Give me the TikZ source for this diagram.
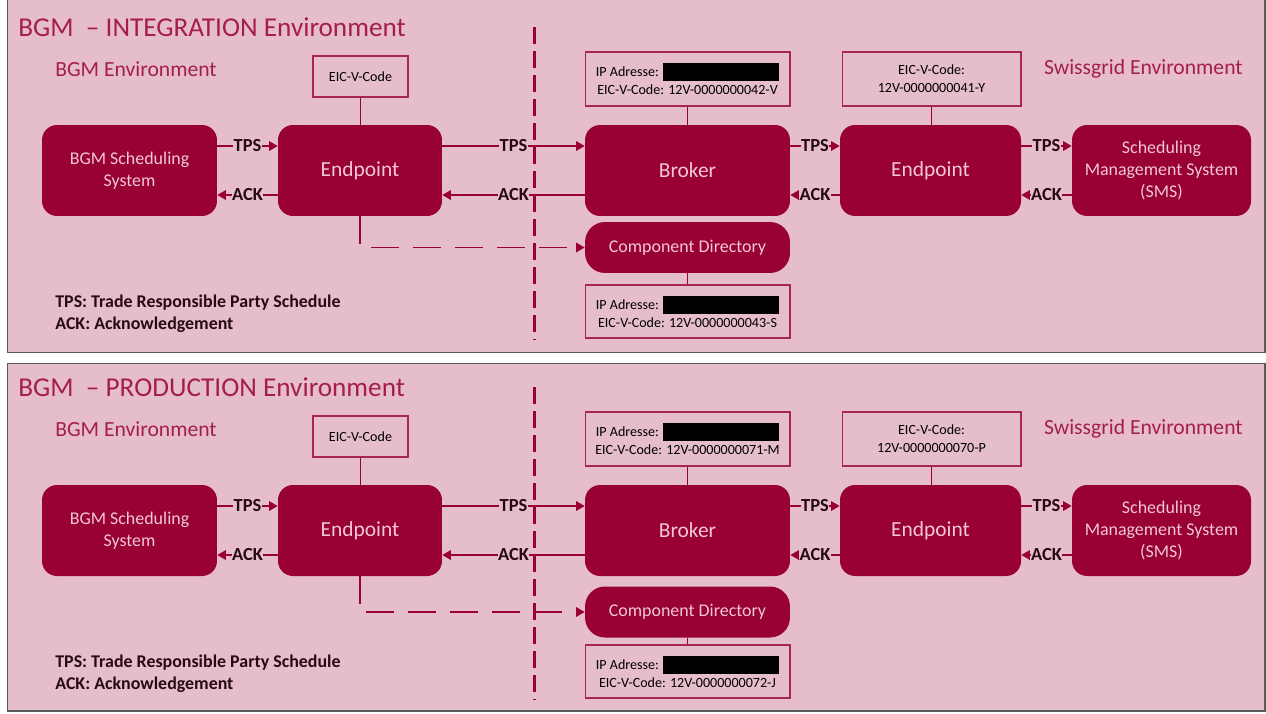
\documentclass[tikz,border=0pt]{standalone}
\usepackage{fontspec}
\setmainfont{Carlito}
\usetikzlibrary{arrows.meta}
\definecolor{bgpink}{RGB}{230,190,202}
\definecolor{bordeaux}{RGB}{153,0,51}
\definecolor{titlered}{RGB}{165,30,75}
\definecolor{lightpink}{RGB}{240,200,212}
\definecolor{panelgray}{RGB}{90,90,90}
\definecolor{labeldark}{RGB}{40,10,20}
\begin{document}
\begin{tikzpicture}[x=0.02cm, y=-0.02cm]
  \tikzstyle{sysbox} = [rectangle, fill=bordeaux, text=lightpink, rounded corners=0.3cm, minimum height=1.82cm, align=center, inner sep=0pt, font=\fontsize{10.2}{12.5}\selectfont]
  \tikzstyle{bigbox} = [sysbox, font=\fontsize{12.2}{14}\selectfont]
  \tikzstyle{infobox} = [rectangle, draw=bordeaux!85, line width=0.6pt, fill=bgpink, align=center, inner sep=0pt, font=\fontsize{8}{10.2}\selectfont]
  \tikzstyle{msg} = [draw=bordeaux, line width=0.85pt, -{Triangle[length=0.17cm, width=0.19cm]}]
  \tikzstyle{lbl} = [midway, fill=bgpink, text=labeldark, inner sep=0.3pt, font=\bfseries\fontsize{10.5}{12}\selectfont]
  \tikzstyle{link} = [draw=bordeaux, line width=0.6pt]
  \tikzstyle{envtitle} = [anchor=west, text=titlered, inner sep=0pt, font=\fontsize{12.3}{14}\selectfont]

  \useasboundingbox (0,0) rectangle (1266,713);
  \fill[white] (0,0) rectangle (1266,713);

  % one panel per environment
  \foreach \i/\y/\ptop/\pbot/\cdy/\envname/\brokercode/\epcode/\cdcode in
    {1/0/-3/352.5/247.5/INTEGRATION/42-V/41-Y/43-S,
     2/360/3.5/351/252/PRODUCTION/71-M/70-P/72-J} {
  \begin{scope}[shift={(0,\y)}]
    \draw[panelgray, fill=bgpink, line width=0.7pt] (7.5,\ptop) rectangle (1265,\pbot);

    \node[envtitle, font=\fontsize{15.5}{18}\selectfont] (title\i) at (18,27) {BGM \ – \envname{} Environment};
    \node[envtitle] (bgmenv\i) at (55,69) {BGM Environment};
    \node[envtitle, anchor=east] (sgenv\i) at (1243,69) {Swissgrid Environment};

    \node[sysbox, minimum width=3.5cm] (bgm\i) at (129.5,170.5) {BGM Scheduling\\System};
    \node[bigbox, minimum width=3.28cm] (epl\i) at (360,170.5) {Endpoint};
    \node[bigbox, minimum width=4.1cm] (broker\i) at (687.5,170.5) {Broker};
    \node[bigbox, minimum width=3.62cm] (epr\i) at (930.5,170.5) {Endpoint};
    \node[sysbox, minimum width=3.58cm] (sms\i) at (1161.5,170.5) {Scheduling\\Management System\\(SMS)};
    \node[sysbox, minimum width=4.1cm, minimum height=1.02cm, rounded corners=0.4cm] (cd\i) at (687.5,\cdy) {Component Directory};

    \node[infobox, minimum width=1.9cm, minimum height=0.82cm] (eicl\i) at (360.5,76.5) {EIC-V-Code};
    \node[infobox, minimum width=4.1cm, minimum height=1.08cm] (ipb\i) at (687.5,79) {IP Adresse: \rule[-0.09cm]{2.32cm}{0.36cm}\\EIC-V-Code: 12V-00000000\brokercode};
    \node[infobox, minimum width=3.58cm, minimum height=1.08cm] (eicr\i) at (931.5,79) {EIC-V-Code:\\12V-00000000\epcode};
    \node[infobox, minimum width=4.1cm, minimum height=1.06cm] (ipcd\i) at (687.5,311.5) {IP Adresse: \rule[-0.09cm]{2.32cm}{0.36cm}\\EIC-V-Code: 12V-00000000\cdcode};

    \node[anchor=west, align=left, text=labeldark, inner sep=0pt, font=\bfseries\fontsize{10.2}{12.5}\selectfont] (legend\i) at (55,314) {TPS: Trade Responsible Party Schedule\\ACK: Acknowledgement};

    % messages
    \draw[msg] ([yshift=0.49cm]bgm\i.east) -- node[lbl] {TPS} ([yshift=0.49cm]epl\i.west);
    \draw[msg] ([yshift=-0.49cm]epl\i.west) -- node[lbl] {ACK} ([yshift=-0.49cm]bgm\i.east);
    \draw[msg] ([yshift=0.49cm]epl\i.east) -- node[lbl] {TPS} ([yshift=0.49cm]broker\i.west);
    \draw[msg] ([yshift=-0.49cm]broker\i.west) -- node[lbl] {ACK} ([yshift=-0.49cm]epl\i.east);
    \draw[msg] ([yshift=0.49cm]broker\i.east) -- node[lbl] {TPS} ([yshift=0.49cm]epr\i.west);
    \draw[msg] ([yshift=-0.49cm]epr\i.west) -- node[lbl] {ACK} ([yshift=-0.49cm]broker\i.east);
    \draw[msg] ([yshift=0.49cm]epr\i.east) -- node[lbl] {TPS} ([yshift=0.49cm]sms\i.west);
    \draw[msg] ([yshift=-0.49cm]sms\i.west) -- node[lbl] {ACK} ([yshift=-0.49cm]epr\i.east);
    \draw[msg, dash pattern=on 0.56cm off 0.28cm] (epl\i.south) |- (cd\i.west);

    % info boxes
    \draw[link] (eicl\i.south) -- (eicl\i.south |- epl\i.north);
    \draw[link] (ipb\i) -- (broker\i);
    \draw[link] (eicr\i.south) -- (eicr\i.south |- epr\i.north);
    \draw[link] (cd\i) -- (ipcd\i);

    % border between the two environments
    \draw[bordeaux, line width=1.5pt, dash pattern=on 0.34cm off 0.14cm] (534.5,27) -- (534.5,340);
  \end{scope}
  }
\end{tikzpicture}
\end{document}
